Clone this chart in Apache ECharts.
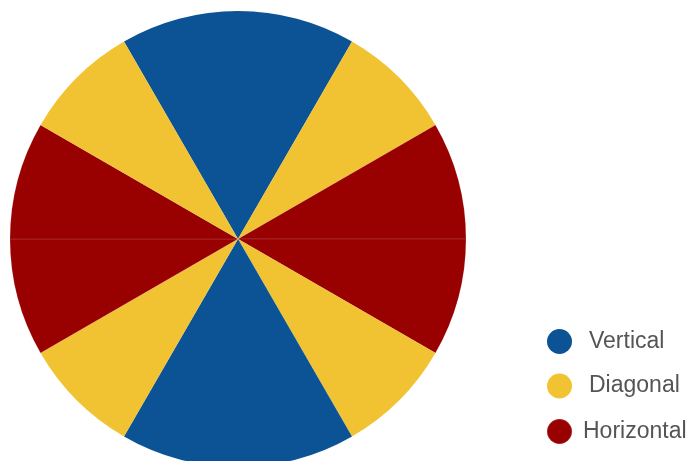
<!DOCTYPE html>
<html><head><meta charset="utf-8">
<script src="https://cdn.jsdelivr.net/npm/echarts@6/dist/echarts.min.js"></script>
<style>html,body{margin:0;padding:0;background:#fff}#c{width:695px;height:461px}</style>
</head><body><div id="c"></div>
<script>
const legendNames = ['Vertical', 'Diagonal', 'Horizontal'];
const sliceNames = ['Vertical','Diagonal','Horizontal','Horizontal','Diagonal','Vertical','Diagonal','Horizontal','Horizontal','Diagonal'];
const sliceValues = [60, 30, 30, 30, 30, 60, 30, 30, 30, 30];
const colors = {Vertical:'#0b5394', Diagonal:'#f1c232', Horizontal:'#990000'};

const chart = echarts.init(document.getElementById('c'), null, {renderer:'canvas'});
const txt = {fontSize:23, color:'#555', fontFamily:'Liberation Sans, Arial, sans-serif'};
chart.setOption({
  animation:false,
  legend:{
    data: legendNames, orient:'vertical', left:546, top:329, padding:0,
    icon:'circle', itemWidth:25, itemHeight:25, itemGap:19.5,
    formatter: n => n === 'Horizontal' ? '{h|' + n + '}' : '{a|' + n + '}',
    textStyle:{...txt, rich:{a:{...txt, padding:[0,0,0,12]}, h:{...txt, padding:[0,0,0,6]}}}
  },
  series:[{
    type:'pie', center:[238,239], radius:[0,228], startAngle:120, clockwise:true,
    label:{show:false}, labelLine:{show:false}, emphasis:{disabled:true},
    data: sliceNames.map((n,i)=>({name:n, value:sliceValues[i],
      itemStyle:{color:colors[n], borderColor: n==='Horizontal' ? 'rgba(255,255,255,0.12)' : colors[n], borderWidth: n==='Horizontal' ? 1 : 0}}))
  }]
});
</script></body></html>
